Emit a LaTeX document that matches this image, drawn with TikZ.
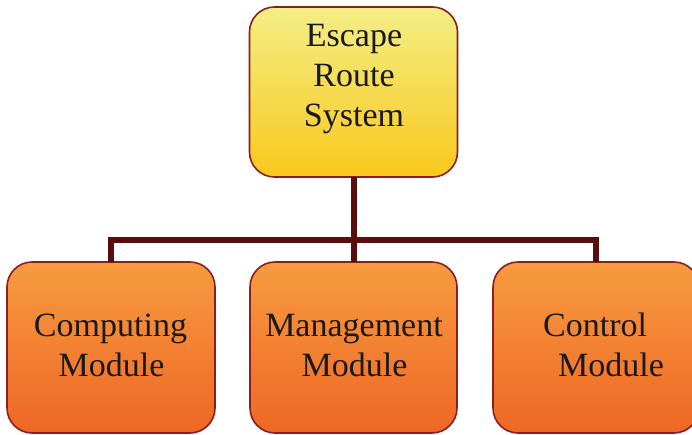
\documentclass[tikz,border=0pt]{standalone}
\usepackage{fontspec}
\setmainfont{Liberation Serif}
\definecolor{edgered}{HTML}{8A1F1F}
\definecolor{wire}{HTML}{5A0D0D}
\definecolor{ytop}{HTML}{F3EE86}
\definecolor{ybot}{HTML}{F9C81C}
\definecolor{otop}{HTML}{F79B40}
\definecolor{obot}{HTML}{EE6724}
\tikzset{
  box/.style={draw=edgered, line width=1.6pt, rounded corners=25pt,
    inner sep=0pt, outer sep=0pt, minimum width=208pt, minimum height=171pt},
  rootbox/.style={box, top color=ytop, bottom color=ybot, minimum height=170pt},
  modbox/.style={box, top color=otop, bottom color=obot},
  conn/.style={draw=wire, line width=6pt},
  lbl/.style={anchor=base, inner sep=0pt, font=\fontsize{34}{40}\selectfont, text=black!90},
  lblw/.style={lbl, anchor=base west}
}
\begin{document}
\begin{tikzpicture}[x=1pt, y=-1pt]
\useasboundingbox (0,0) rectangle (692,435);
\clip (0,0) rectangle (692,435);

% boxes
\node[rootbox] (root) at (353.5,92) {};
\node[modbox] (comp) at (111,347.5) {};
\node[modbox, minimum width=207pt] (mgmt) at (353.5,347.5) {};
\node[modbox, minimum width=206pt] (ctrl) at (596,347.5) {};

% bus connecting the modules
\coordinate (bus) at (0,240.5);
\draw[conn] (root.south) -- (mgmt.north);
\draw[conn] (comp.north) -- (comp.north |- bus) -- (ctrl.north |- bus) -- (ctrl.north);

% labels
\node[lbl] (t1) at (354,47) {Escape};
\node[lbl] (t2) at (354,87) {Route};
\node[lbl] (t3) at (354,127) {System};

\node[lbl] (c1) at (110.5,336) {Computing};
\node[lbl] (c2) at (111.5,376) {Module};

\node[lbl] (m1) at (354,336) {Management};
\node[lbl] (m2) at (354.5,376) {Module};

\node[lblw] (k1) at (543,336) {Control};
\node[lblw] (k2) at (558,376) {Module};
\end{tikzpicture}
\end{document}
